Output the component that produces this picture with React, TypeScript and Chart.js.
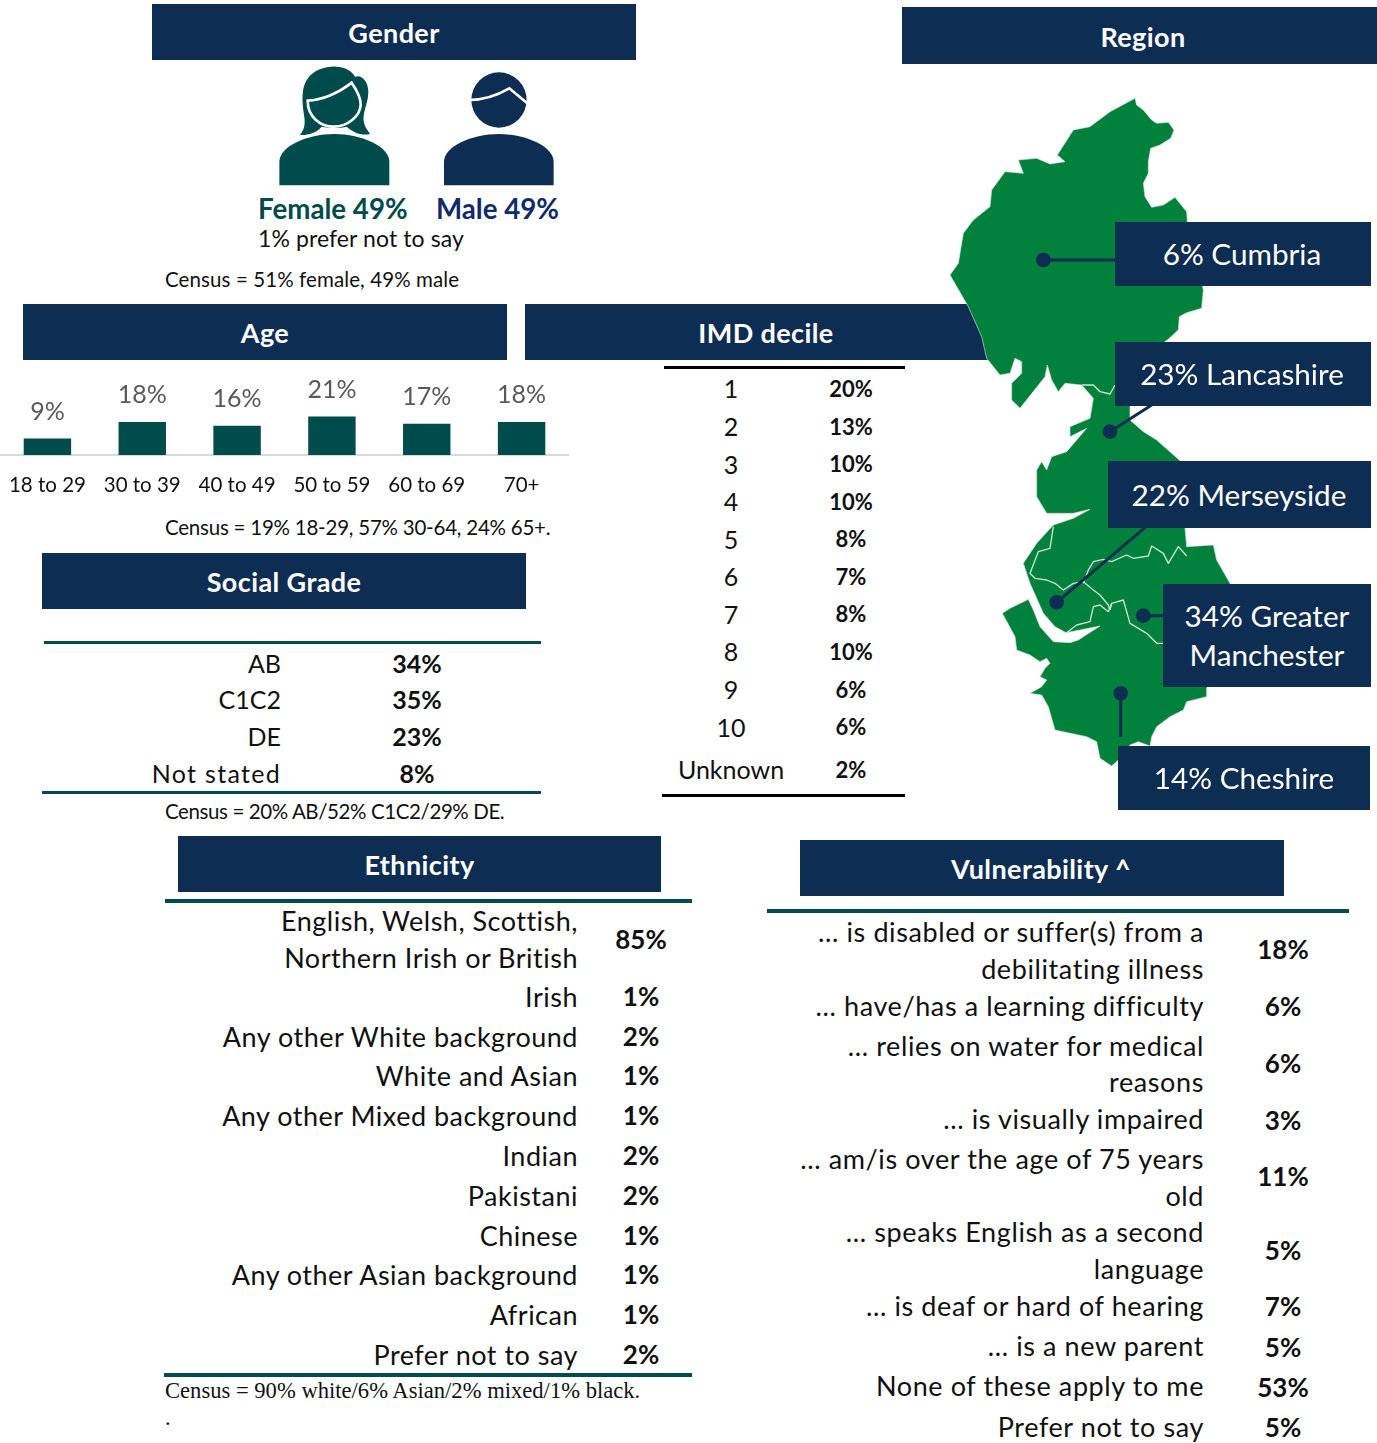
import React, { useEffect, useRef } from "react";
import { Chart, registerables } from "chart.js";

Chart.register(...registerables);

const FONT = "Lato, Carlito, sans-serif";
const NAVY = "#0e2d52";
const TEAL = "#004b4b";

// ---- data ----
const ageCategories = ["18 to 29", "30 to 39", "40 to 49", "50 to 59", "60 to 69", "70+"];
const ageValues = [9, 18, 16, 21, 17, 18];

const imdLabels = ["1", "2", "3", "4", "5", "6", "7", "8", "9", "10", "Unknown"];
const imdValues = [20, 13, 10, 10, 8, 7, 8, 10, 6, 6, 2];

const gradeLabels = ["AB", "C1C2", "DE", "Not stated"];
const gradeValues = [34, 35, 23, 8];

const ethnicityLabels = [
  ["English, Welsh, Scottish,", "Northern Irish or British"],
  ["Irish"],
  ["Any other White background"],
  ["White and Asian"],
  ["Any other Mixed background"],
  ["Indian"],
  ["Pakistani"],
  ["Chinese"],
  ["Any other Asian background"],
  ["African"],
  ["Prefer not to say"],
];
const ethnicityValues = [85, 1, 2, 1, 1, 2, 2, 1, 1, 1, 2];

const vulnerabilityLabels = [
  ["... is disabled or suffer(s) from a", "debilitating illness"],
  ["... have/has a learning difficulty"],
  ["... relies on water for medical", "reasons"],
  ["... is visually impaired"],
  ["... am/is over the age of 75 years", "old"],
  ["... speaks English as a second", "language"],
  ["... is deaf or hard of hearing"],
  ["... is a new parent"],
  ["None of these apply to me"],
  ["Prefer not to say"],
];
const vulnerabilityValues = [18, 6, 6, 3, 11, 5, 7, 5, 53, 5];

// ---- layout ----
const imdY = [389, 427, 465, 502, 540, 577, 615, 652, 690, 728, 770];
const imdValY = [390, 428, 465, 503, 540, 578, 615, 653, 691, 728, 771];
const gradeY = [664, 700, 737, 774];
const gradeLs = [0, 0, 0, 1.3];
const ethLineY = [[921, 958], [997], [1037], [1076], [1116], [1156], [1196], [1236], [1275], [1315], [1355]];
const ethValY = [940, 997, 1037, 1076, 1116, 1156, 1196, 1236, 1275, 1315, 1355];
const vulLineY = [[932, 969], [1006], [1046, 1082], [1119], [1159, 1196], [1232, 1269], [1306], [1346], [1386], [1427]];
const vulValY = [950, 1007, 1064, 1121, 1177, 1251, 1307, 1348, 1388, 1428];

type TProps = {
  x: number; y: number; s: number; a?: "l" | "c" | "r"; b?: boolean; c?: string; f?: string; ls?: number;
  children: React.ReactNode;
};
function T({ x, y, s, a = "l", b, c = "#111", f = FONT, ls = 0, children }: TProps) {
  const tx = a === "l" ? "0" : a === "c" ? "-50%" : "-100%";
  return (
    <div
      style={{
        position: "absolute", left: x, top: y - 1, fontSize: s, fontFamily: f, fontWeight: b ? 700 : 400, color: c,
        lineHeight: 1, whiteSpace: "nowrap", letterSpacing: ls, transform: `translate(${tx},-50%)`,
      }}
    >
      {children}
    </div>
  );
}

function Box({ x, y, w, h, z }: { x: number; y: number; w: number; h: number; z?: number }) {
  return <div style={{ position: "absolute", left: x, top: y, width: w, height: h, background: NAVY, zIndex: z }} />;
}

function Rule({ x, y, w, h = 3, c }: { x: number; y: number; w: number; h?: number; c: string }) {
  return <div style={{ position: "absolute", left: x, top: y, width: w, height: h, background: c }} />;
}

function Header({ x, y, w, h, label, cx }: { x: number; y: number; w: number; h: number; label: string; cx?: number }) {
  return (
    <>
      <Box x={x} y={y} w={w} h={h} />
      <T x={cx ?? x + w / 2} y={y + h / 2 + 1} s={27} a="c" b c="#fff" ls={0.4}>{label}</T>
    </>
  );
}

function AgeChart() {
  const ref = useRef<HTMLCanvasElement>(null);
  useEffect(() => {
    const valueLabels = {
      id: "valueLabels",
      afterDatasetsDraw(chart: any) {
        const { ctx } = chart;
        const meta = chart.getDatasetMeta(0);
        ctx.save();
        ctx.font = `25px ${FONT}`;
        ctx.fillStyle = "#595959";
        ctx.textAlign = "center";
        ctx.textBaseline = "middle";
        meta.data.forEach((el: any, i: number) => {
          ctx.fillText(`${ageValues[i]}%`, el.x, el.y - 27);
        });
        ctx.restore();
      },
    };
    const chart = new Chart(ref.current!, {
      type: "bar",
      data: {
        labels: ageCategories,
        datasets: [{
          data: ageValues, backgroundColor: TEAL, barPercentage: 0.5, categoryPercentage: 1,
          borderWidth: 0,
        }],
      },
      options: {
        animation: false, responsive: false, maintainAspectRatio: false,
        layout: { padding: 0 },
        plugins: { legend: { display: false }, tooltip: { enabled: false }, title: { display: false } },
        scales: {
          x: {
            grid: { display: false, drawTicks: false },
            border: { color: "#d9d9d9", width: 2 },
            ticks: { color: "#111", font: { family: FONT, size: 20.5 }, padding: 18, maxRotation: 0, autoSkip: false },
            afterFit(s: any) { s.height = 50; s.paddingLeft = 0; s.paddingRight = 0; },
          },
          y: { display: false, min: 0, max: 46.4 },
        },
      },
      plugins: [valueLabels],
    });
    return () => chart.destroy();
  }, []);
  return (
    <canvas ref={ref} width={569} height={135}
      style={{ position: "absolute", left: 0, top: 370, width: 569, height: 135 }} />
  );
}

const mapPath = [
  "M615,25 L620,45 640,60 665,90 680,100 715,97 732,120 722,145 690,165 662,175 655,215 655,250 640,280 645,320 665,352 700,345 735,322 770,365 772,395",
  "L800,500 820,600 815,655 770,668 748,680 745,720 712,750 640,800 600,950 600,990 640,1025 680,1050 750,1112",
  "L765,1313 770,1370 850,1365 860,1410 900,1480 890,1650 830,1795 830,1820 770,1835 760,1860 720,1880 680,1910 665,1940 660,1968 625,1955 600,1965 565,2010 545,2028 510,2005 500,1955 470,1940 375,1920 355,1850 335,1815 300,1810 335,1790 350,1770 330,1760 345,1735 360,1720 350,1705 330,1715 300,1695 260,1680 255,1640 217,1570 240,1555 295,1528 310,1560 330,1610 370,1655 420,1658 445,1650 510,1608 450,1620 408,1628 375,1610 340,1570 300,1480 280,1420 320,1360 370,1305 430,1285 480,1258 430,1270 350,1270 320,1220 320,1140 335,1115 350,1140 365,1100 410,1085",
  "L440,1050 470,1015 420,1040 420,1010 480,985 490,925 455,885 405,880 385,905 365,870 352,825 345,860 270,955 245,930 245,880 275,850 275,815 255,805 240,850 210,855 170,805 155,740 115,650 60,555 85,520 100,430 130,390 180,350 185,300 225,245 280,250 265,210 320,205 360,222 405,215 382,195 430,120 480,110 540,65 Z",
].join(" ");

const borders = [
  "M455,885 490,885 510,905 540,912 555,885",
  "M370,1310 360,1375 325,1385 300,1450 315,1465 350,1470 375,1480 400,1500 430,1480 460,1475 490,1500 510,1515 535,1545 540,1560",
  "M460,1480 475,1440 490,1415 520,1408 545,1415 590,1395 610,1405 655,1398 665,1368 700,1390 715,1420 745,1370 770,1398",
  "M540,1560 545,1540 580,1530 600,1600 650,1630 680,1660 700,1660",
  "M410,1628 440,1605 480,1595 490,1550 510,1545 535,1565 545,1540",
];

const connectors = [
  { dot: [340, 510], to: [555, 510] },
  { dot: [540, 1025], to: [665, 945] },
  { dot: [380, 1537], to: [645, 1313] },
  { dot: [640, 1577], to: [700, 1577] },
  { dot: [572, 1810], to: [572, 1940] },
];

function RegionMap() {
  return (
    <svg viewBox="0 0 1341 2100" width={447} height={700} style={{ position: "absolute", left: 930, top: 90 }}>
      <path d={mapPath} fill="#02813c" stroke="#d5e4dc" strokeWidth={2} strokeLinejoin="round" />
      {borders.map((d, i) => (
        <path key={i} d={d} fill="none" stroke="#cfe5d6" strokeWidth={4} strokeLinejoin="round" />
      ))}
      {connectors.map((c, i) => (
        <g key={i}>
          <line x1={c.dot[0]} y1={c.dot[1]} x2={c.to[0]} y2={c.to[1]} stroke={NAVY} strokeWidth={9} />
          <circle cx={c.dot[0]} cy={c.dot[1]} r={22} fill={NAVY} />
        </g>
      ))}
    </svg>
  );
}

function People() {
  return (
    <svg viewBox="0 0 1020 400" width={340} height={133.3} style={{ position: "absolute", left: 240, top: 60 }}>
      <path d="M118,376 L118,305 C118,260 200,222 283,222 C366,222 448,260 448,305 L448,376 Z" fill={TEAL} />
      <path d="M180,225 C195,205 196,190 192,165 C185,120 185,85 200,60 C220,28 260,18 290,20 C315,22 335,32 345,50 C365,42 385,65 385,95 C385,130 365,160 372,188 C376,205 385,212 390,222 C365,228 340,218 320,200 C300,205 270,205 245,200 C230,218 205,226 180,225 Z" fill={TEAL} />
      <path d="M203,122 C245,120 295,100 335,68 C350,90 363,115 362,135 C360,170 320,200 282,200 C240,200 203,170 203,122 Z" fill={TEAL} stroke="#fff" strokeWidth={8} />
      <path d="M612,376 L612,305 C612,260 694,222 777,222 C860,222 941,260 941,305 L941,376 Z" fill={NAVY} />
      <circle cx={777} cy={120} r={83} fill={NAVY} />
      <path d="M686,120 C730,120 765,110 808,85 L862,130" fill="none" stroke="#fff" strokeWidth={8} />
    </svg>
  );
}

export default function App() {
  return (
    <div style={{ position: "absolute", left: 0, top: 0, width: 1377, height: 1443, overflow: "hidden", background: "#fff" }}>
      <Header x={152} y={4} w={484} h={56} label="Gender" />
      <Header x={902} y={7} w={475} h={57} label="Region" cx={1143} />
      <Header x={23} y={304} w={484} h={56} label="Age" cx={265} />
      <Header x={525} y={304} w={465} h={56} label="IMD decile" cx={766} />
      <Header x={42} y={553} w={484} h={56} label="Social Grade" />
      <Header x={178} y={836} w={483} h={56} label="Ethnicity" />
      <Header x={800} y={840} w={484} h={56} label="Vulnerability ^" cx={1041} />

      <People />
      <T x={258} y={210} s={27.7} b c={TEAL}>Female 49%</T>
      <T x={436} y={210} s={27.7} b c="#0f2b6b">Male 49%</T>
      <T x={258} y={239} s={23} ls={0.1}>1% prefer not to say</T>
      <T x={165} y={280} s={20.5} ls={0.1}>Census = 51% female, 49% male</T>

      <AgeChart />
      <T x={165} y={528} s={20.5} ls={-0.23}>Census = 19% 18-29, 57% 30-64, 24% 65+.</T>

      <Rule x={44} y={641} w={497} c={TEAL} />
      <Rule x={42} y={791} w={499} c={TEAL} />
      {gradeLabels.map((l, i) => (
        <React.Fragment key={l}>
          <T x={281} y={gradeY[i]} s={25} a="r" ls={gradeLs[i]}>{l}</T>
          <T x={417} y={gradeY[i]} s={25} a="c" b>{gradeValues[i]}%</T>
        </React.Fragment>
      ))}
      <T x={165} y={812} s={20.5} ls={-0.4}>Census = 20% AB/52% C1C2/29% DE.</T>

      <Rule x={664} y={366} w={241} c="#000" />
      <Rule x={662} y={794} w={243} c="#000" />
      {imdLabels.map((l, i) => (
        <React.Fragment key={l}>
          <T x={731} y={imdY[i]} s={25} a="c">{l}</T>
          <T x={851} y={imdValY[i]} s={22} a="c" b>{imdValues[i]}%</T>
        </React.Fragment>
      ))}

      <Rule x={165} y={899} w={527} h={4} c={TEAL} />
      <Rule x={164} y={1373} w={528} h={4} c={TEAL} />
      {ethnicityLabels.map((lines, i) => (
        <React.Fragment key={i}>
          {lines.map((l, j) => <T key={j} x={578} y={ethLineY[i][j]} s={27} a="r" ls={0.5}>{l}</T>)}
          <T x={641} y={ethValY[i]} s={26} a="c" b>{ethnicityValues[i]}%</T>
        </React.Fragment>
      ))}
      <T x={165} y={1392} s={22.6} f="'Liberation Serif', serif">Census = 90% white/6% Asian/2% mixed/1% black.</T>
      <T x={165} y={1419} s={22.6} f="'Liberation Serif', serif">.</T>

      <Rule x={767} y={909} w={582} h={4} c={TEAL} />
      {vulnerabilityLabels.map((lines, i) => (
        <React.Fragment key={i}>
          {lines.map((l, j) => <T key={j} x={1204} y={vulLineY[i][j]} s={27} a="r" ls={0.6}>{l}</T>)}
          <T x={1283} y={vulValY[i]} s={26} a="c" b>{vulnerabilityValues[i]}%</T>
        </React.Fragment>
      ))}

      <div style={{ position: "absolute", left: 0, top: 0, width: 1377, height: 1443, pointerEvents: "none" }}>
        <RegionMap />
        <Box x={1115} y={222} w={256} h={64} />
        <T x={1242} y={255} s={29.7} a="c" c="#fff">6% Cumbria</T>
        <Box x={1115} y={342} w={256} h={64} />
        <T x={1242} y={375} s={29.7} a="c" c="#fff">23% Lancashire</T>
        <Box x={1108} y={461} w={263} h={67} />
        <T x={1239} y={496} s={29.7} a="c" c="#fff">22% Merseyside</T>
        <Box x={1163} y={584} w={208} h={103} />
        <T x={1267} y={617} s={29.7} a="c" c="#fff">34% Greater</T>
        <T x={1267} y={656} s={29.7} a="c" c="#fff">Manchester</T>
        <Box x={1118} y={746} w={252} h={64} />
        <T x={1244} y={779} s={29.7} a="c" c="#fff">14% Cheshire</T>
      </div>
    </div>
  );
}
